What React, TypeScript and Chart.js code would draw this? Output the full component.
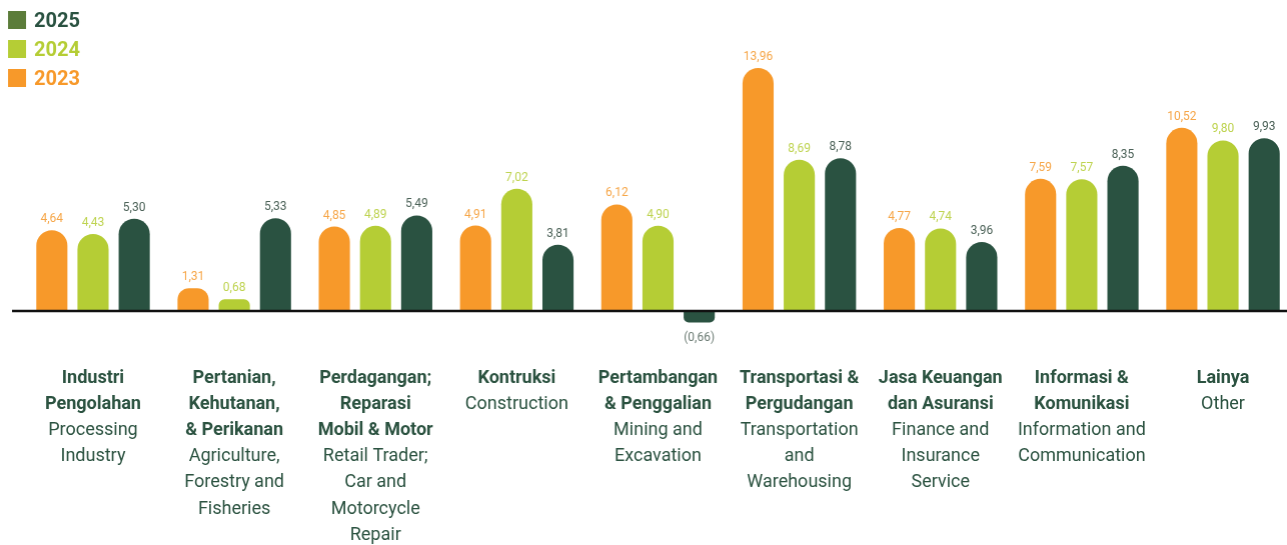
import React, { useEffect, useRef } from "react";
import { Chart, registerables } from "chart.js";

Chart.register(...registerables);

const boldLabels: string[][] = [
  ["Industri", "Pengolahan"],
  ["Pertanian,", "Kehutanan,", "& Perikanan"],
  ["Perdagangan;", "Reparasi", "Mobil & Motor"],
  ["Kontruksi"],
  ["Pertambangan", "& Penggalian"],
  ["Transportasi &", "Pergudangan"],
  ["Jasa Keuangan", "dan Asuransi"],
  ["Informasi &", "Komunikasi"],
  ["Lainya"],
];
const englishLabels: string[][] = [
  ["Processing", "Industry"],
  ["Agriculture,", "Forestry and", "Fisheries"],
  ["Retail Trader;", "Car and", "Motorcycle", "Repair"],
  ["Construction"],
  ["Mining and", "Excavation"],
  ["Transportation", "and", "Warehousing"],
  ["Finance and", "Insurance", "Service"],
  ["Information and", "Communication"],
  ["Other"],
];
const categories: string[] = boldLabels.map((l) => l.join(" "));

const values2023: number[] = [4.64, 1.31, 4.85, 4.91, 6.12, 13.96, 4.77, 7.59, 10.52];
const values2024: number[] = [4.43, 0.68, 4.89, 7.02, 4.9, 8.69, 4.74, 7.57, 9.8];
const values2025: number[] = [5.3, 5.33, 5.49, 3.81, -0.66, 8.78, 3.96, 8.35, 9.93];

const seriesNames: string[] = ["2023", "2024", "2025"];
const barColors: string[] = ["#f7992a", "#b5cd35", "#2a5241"];
const valueLabelColors: string[] = ["#f6a648", "#bed350", "#4c6258"];
const legendSquareColors: string[] = ["#f7992a", "#b5cd35", "#5b7c3a"];
const legendTextColors: string[] = ["#f7992a", "#b5cd35", "#2a5241"];

const TEXT_COLOR = "#2b5240";
const FONT = "Roboto, 'Noto Sans', sans-serif";
const VIEW_W = 1287;

function fmt(v: number): string {
  const s = Math.abs(v).toFixed(2).replace(".", ",");
  return v < 0 ? `(${s})` : s;
}

const customDraw = {
  id: "customDraw",
  afterDatasetsDraw(chart: any) {
    const { ctx } = chart;
    const yScale = chart.scales.y;
    const xScale = chart.scales.x;
    const zeroY = yScale.getPixelForValue(0);

    // baseline
    ctx.save();
    ctx.strokeStyle = "#111111";
    ctx.lineWidth = 2.5;
    ctx.beginPath();
    ctx.moveTo(12, zeroY);
    ctx.lineTo(VIEW_W, zeroY);
    ctx.stroke();

    // value labels
    ctx.font = `12px ${FONT}`;
    ctx.textAlign = "center";
    chart.data.datasets.forEach((ds: any, di: number) => {
      const meta = chart.getDatasetMeta(di);
      meta.data.forEach((el: any, i: number) => {
        const v = ds.data[i] as number;
        if (v < 0) {
          ctx.fillStyle = "#6b7b73";
          ctx.textBaseline = "top";
          ctx.fillText(fmt(v), el.x, el.y + 10);
        } else {
          ctx.fillStyle = valueLabelColors[di];
          ctx.textBaseline = "bottom";
          ctx.fillText(fmt(v), el.x, el.y - 5);
        }
      });
    });

    // category labels
    ctx.fillStyle = TEXT_COLOR;
    ctx.textBaseline = "middle";
    const startY = 378;
    const lh = 26.2;
    categories.forEach((_c, i) => {
      const x = xScale.getPixelForValue(i);
      let line = 0;
      ctx.font = `bold 18px ${FONT}`;
      boldLabels[i].forEach((t) => {
        ctx.fillText(t, x, startY + line * lh);
        line++;
      });
      ctx.font = `18px ${FONT}`;
      englishLabels[i].forEach((t) => {
        ctx.fillText(t, x, startY + line * lh);
        line++;
      });
    });

    // legend (2025 on top)
    const order = [2, 1, 0];
    order.forEach((di, row) => {
      const cy = 20 + row * 29;
      ctx.fillStyle = legendSquareColors[di];
      ctx.fillRect(8, cy - 9, 18, 18);
      ctx.fillStyle = legendTextColors[di];
      ctx.font = `bold 20px ${FONT}`;
      ctx.textAlign = "left";
      ctx.textBaseline = "middle";
      ctx.fillText(seriesNames[di], 34, cy + 2);
    });
    ctx.restore();
  },
};

export default function App() {
  const canvasRef = useRef<HTMLCanvasElement | null>(null);

  useEffect(() => {
    document.body.style.margin = "0";
    document.body.style.overflow = "hidden";
    if (!canvasRef.current) return;
    const series = [values2023, values2024, values2025];
    const chart = new Chart(canvasRef.current, {
      type: "bar",
      data: {
        labels: categories,
        datasets: series.map((d, i) => ({
          label: seriesNames[i],
          data: d,
          backgroundColor: barColors[i],
          borderWidth: 0,
          borderRadius: (c: any) => ((c.raw as number) < 0 ? 5 : 16),
          borderSkipped: "start",
          categoryPercentage: 0.875,
          barPercentage: 0.756,
        })),
      },
      options: {
        animation: false,
        responsive: true,
        maintainAspectRatio: false,
        layout: { padding: { left: 22.4, right: 0, top: 0, bottom: 199.2 } },
        plugins: {
          legend: { display: false },
          tooltip: { enabled: false },
        },
        scales: {
          x: { display: false, grid: { display: false } },
          y: { display: false, min: -2, max: 17.866, grid: { display: false } },
        },
      },
      plugins: [customDraw],
    });
    return () => chart.destroy();
  }, []);

  return (
    <div style={{ width: VIEW_W, height: 545, overflow: "hidden", background: "#ffffff" }}>
      <div style={{ width: 1292.6, height: 545, position: "relative" }}>
        <canvas ref={canvasRef} />
      </div>
    </div>
  );
}
